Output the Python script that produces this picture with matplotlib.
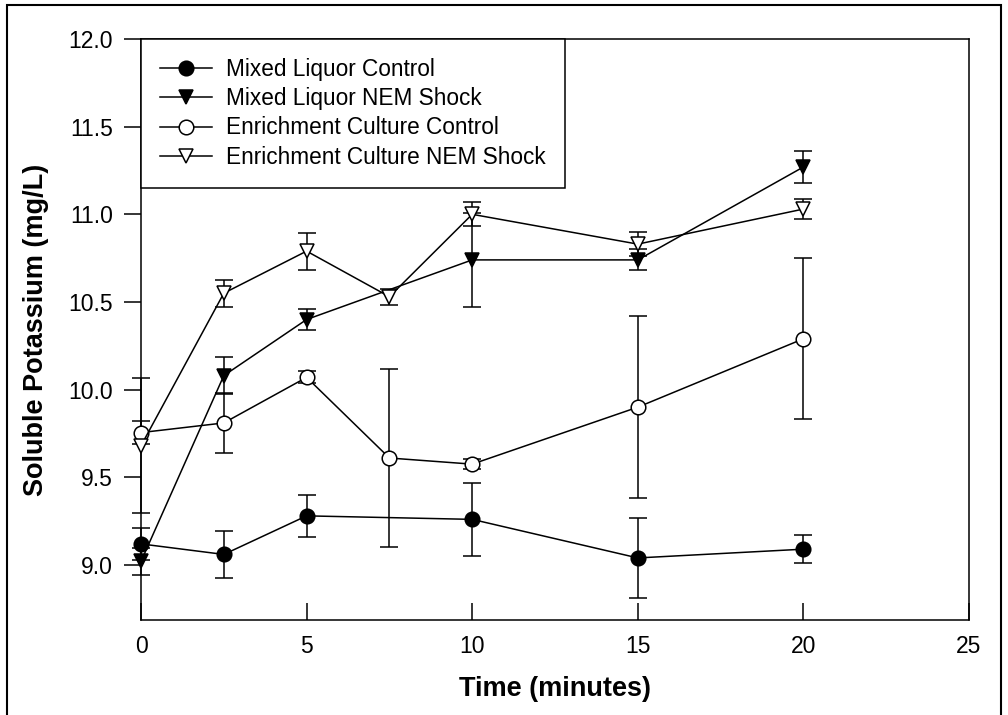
import numpy as np
import matplotlib
matplotlib.use("Agg")
import matplotlib.pyplot as plt
from matplotlib.patches import Rectangle

plt.rcParams['font.family'] = ['Liberation Sans', 'DejaVu Sans']

# soluble potassium (mg/L) vs time (minutes), mean and error
t_ml = [0, 2.5, 5, 10, 15, 20]
t_ec = [0, 2.5, 5, 7.5, 10, 15, 20]

mlc = [9.12, 9.06, 9.28, 9.26, 9.04, 9.09]
mlc_err = [0.09, 0.135, 0.12, 0.21, 0.23, 0.08]

mln = [9.02, 10.08, 10.40, 10.74, 10.74, 11.27]
mln_err = [0.075, 0.105, 0.06, 0.27, 0.06, 0.09]

ecc = [9.755, 9.81, 10.07, 9.61, 9.575, 9.90, 10.29]
ecc_err = [0.065, 0.17, 0.035, 0.505, 0.03, 0.52, 0.46]

ecn = [9.68, 10.55, 10.79, 10.53, 11.0, 10.83, 11.03]
ecn_err = [0.385, 0.077, 0.105, 0.045, 0.068, 0.07, 0.055]

labels = ['Mixed Liquor Control', 'Mixed Liquor NEM Shock',
          'Enrichment Culture Control', 'Enrichment Culture NEM Shock']

fig = plt.figure(figsize=(10.08, 7.15), dpi=100)
ax = fig.add_axes([141/1008, 1 - 620/715, (969 - 141)/1008, (620 - 39)/715])

series = [
    (t_ml, mlc, mlc_err, 'o', 'black'),
    (t_ml, mln, mln_err, 'v', 'black'),
    (t_ec, ecc, ecc_err, 'o', 'white'),
    (t_ec, ecn, ecn_err, 'v', 'white'),
]

handles = []
for (x, y, err, mk, fc), lab in zip(series, labels):
    eb = ax.errorbar(x, y, yerr=err, fmt='none', ecolor='black', elinewidth=1.1,
                     capsize=6.5, capthick=1.1, zorder=2)
    for art in eb.lines[1] + eb.lines[2]:
        art.set_clip_on(False)
    ln, = ax.plot(x, y, color='black', lw=1.1, marker=mk, markersize=10.5,
                  markerfacecolor=fc, markeredgecolor='black',
                  markeredgewidth=1.1, label=lab, zorder=3, clip_on=False)
    handles.append(ln)

ax.set_xlim(0, 25)
ax.set_ylim(8.686, 12.0)
ax.set_xticks([0, 5, 10, 15, 20, 25])
ax.set_yticks(np.arange(9.0, 12.01, 0.5))
ax.set_yticklabels(['%.1f' % v for v in np.arange(9.0, 12.01, 0.5)])

ax.tick_params(axis='x', direction='in', length=12, width=1.1, pad=10.5,
               labelsize=16.5)
ax.tick_params(axis='y', direction='out', length=12, width=1.1, pad=8,
               labelsize=16.5)
for s in ax.spines.values():
    s.set_linewidth(1.1)

ax.set_xlabel('Time (minutes)', fontsize=19.5, fontweight='bold', labelpad=13)
ax.set_ylabel('Soluble Potassium (mg/L)', fontsize=19.5, fontweight='bold',
              labelpad=14)

leg = ax.legend(handles=handles, loc='upper left', fontsize=16.3,
                borderaxespad=0, borderpad=0.85, labelspacing=0.27,
                handlelength=2.3, handletextpad=0.6, fancybox=False,
                framealpha=1, edgecolor='black')
leg.get_frame().set_linewidth(1.1)
leg.set_zorder(5)

# outer frame around the whole figure
fig.patches.append(Rectangle((7/1008, -0.05), (1001 - 7)/1008, 1.05 - 5/715,
                             transform=fig.transFigure, fill=False,
                             edgecolor='black', linewidth=1.5))

fig.savefig('out.png', dpi=100)
